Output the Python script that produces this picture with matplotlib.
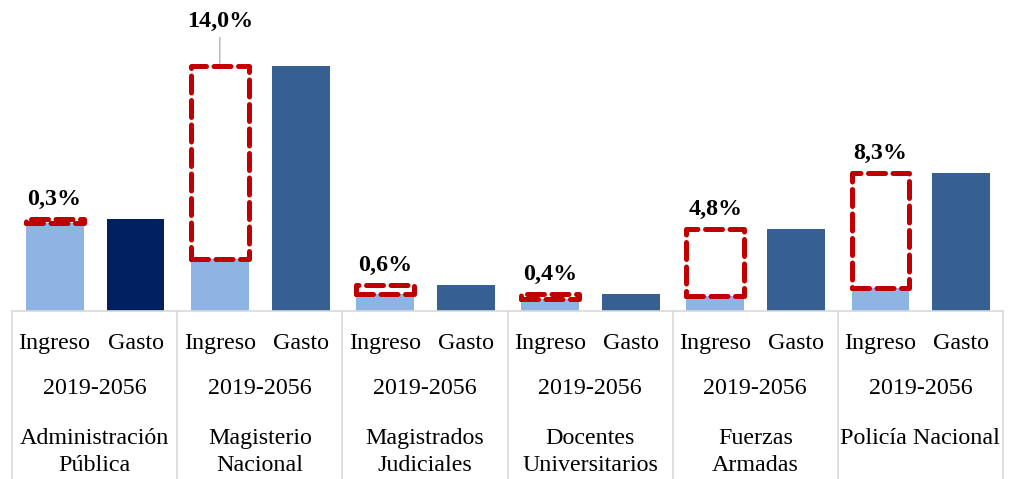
import matplotlib.pyplot as plt
from matplotlib.patches import Rectangle

# values (bar heights, arbitrary units)
groups = ["Administración\nPública", "Magisterio\nNacional", "Magistrados\nJudiciales",
          "Docentes\nUniversitarios", "Fuerzas\nArmadas", "Policía Nacional"]
ingreso = [88, 52, 17, 12, 15, 23]
gasto = [92, 245, 26, 17, 82, 138]
pct_labels = ["0,3%", "14,0%", "0,6%", "0,4%", "4,8%", "8,3%"]
period = "2019-2056"

light = "#8EB4E3"
dark = "#376092"
navy = "#002060"
red = "#C00000"

plt.rcParams['font.family'] = ['Liberation Serif', 'DejaVu Serif']
fs = 17.3

fig = plt.figure(figsize=(10.1, 4.79), dpi=100)
ax = fig.add_axes([12 / 1010, 168 / 479, 991 / 1010, 311 / 479])
ax.set_xlim(0, 6)
ax.set_ylim(0, 311)

w = 0.35
off_i = 0.258
off_g = 0.748
tr = ax.get_xaxis_transform()
for i in range(len(groups)):
    xi = i + off_i
    xg = i + off_g
    ax.bar(xi, ingreso[i], width=w, color=light)
    ax.bar(xg, gasto[i], width=w, color=navy if i == 0 else dark)
    # dashed gap box between ingreso and gasto
    r = Rectangle((xi - w / 2, ingreso[i]), w, gasto[i] - ingreso[i],
                  fill=False, edgecolor=red, linewidth=3.6, linestyle=(0, (3.4, 1.5)),
                  joinstyle='round', capstyle='round', zorder=3)
    ax.add_patch(r)
    if i == 1:
        ax.annotate(pct_labels[i], xy=(xi, gasto[i] + 3), xytext=(xi, gasto[i] + 34),
                    ha='center', va='bottom', fontsize=fs, fontweight='bold',
                    arrowprops=dict(arrowstyle='-', color='#BFBFBF', lw=1.2, shrinkA=2, shrinkB=0))
    else:
        ax.text(xi, gasto[i] + 9, pct_labels[i], ha='center', va='bottom',
                fontsize=fs, fontweight='bold')

    ax.text(xi, -0.103, "Ingreso", transform=tr, ha='center', va='center', fontsize=fs)
    ax.text(xg, -0.103, "Gasto", transform=tr, ha='center', va='center', fontsize=fs)
    ax.text(i + 0.5, -0.248, period, transform=tr, ha='center', va='center', fontsize=fs)
    ax.text(i + 0.5, -0.375, groups[i], transform=tr, ha='center', va='top', fontsize=fs,
            linespacing=1.4)

for k in range(len(groups) + 1):
    ax.plot([k, k], [0, -0.55], transform=tr, color='#D9D9D9', lw=1.2, clip_on=False)

for s in ['top', 'left', 'right']:
    ax.spines[s].set_visible(False)
ax.spines['bottom'].set_color('#D9D9D9')
ax.spines['bottom'].set_linewidth(1.2)
ax.set_xticks([])
ax.set_yticks([])

fig.savefig("out.png", dpi=100)
